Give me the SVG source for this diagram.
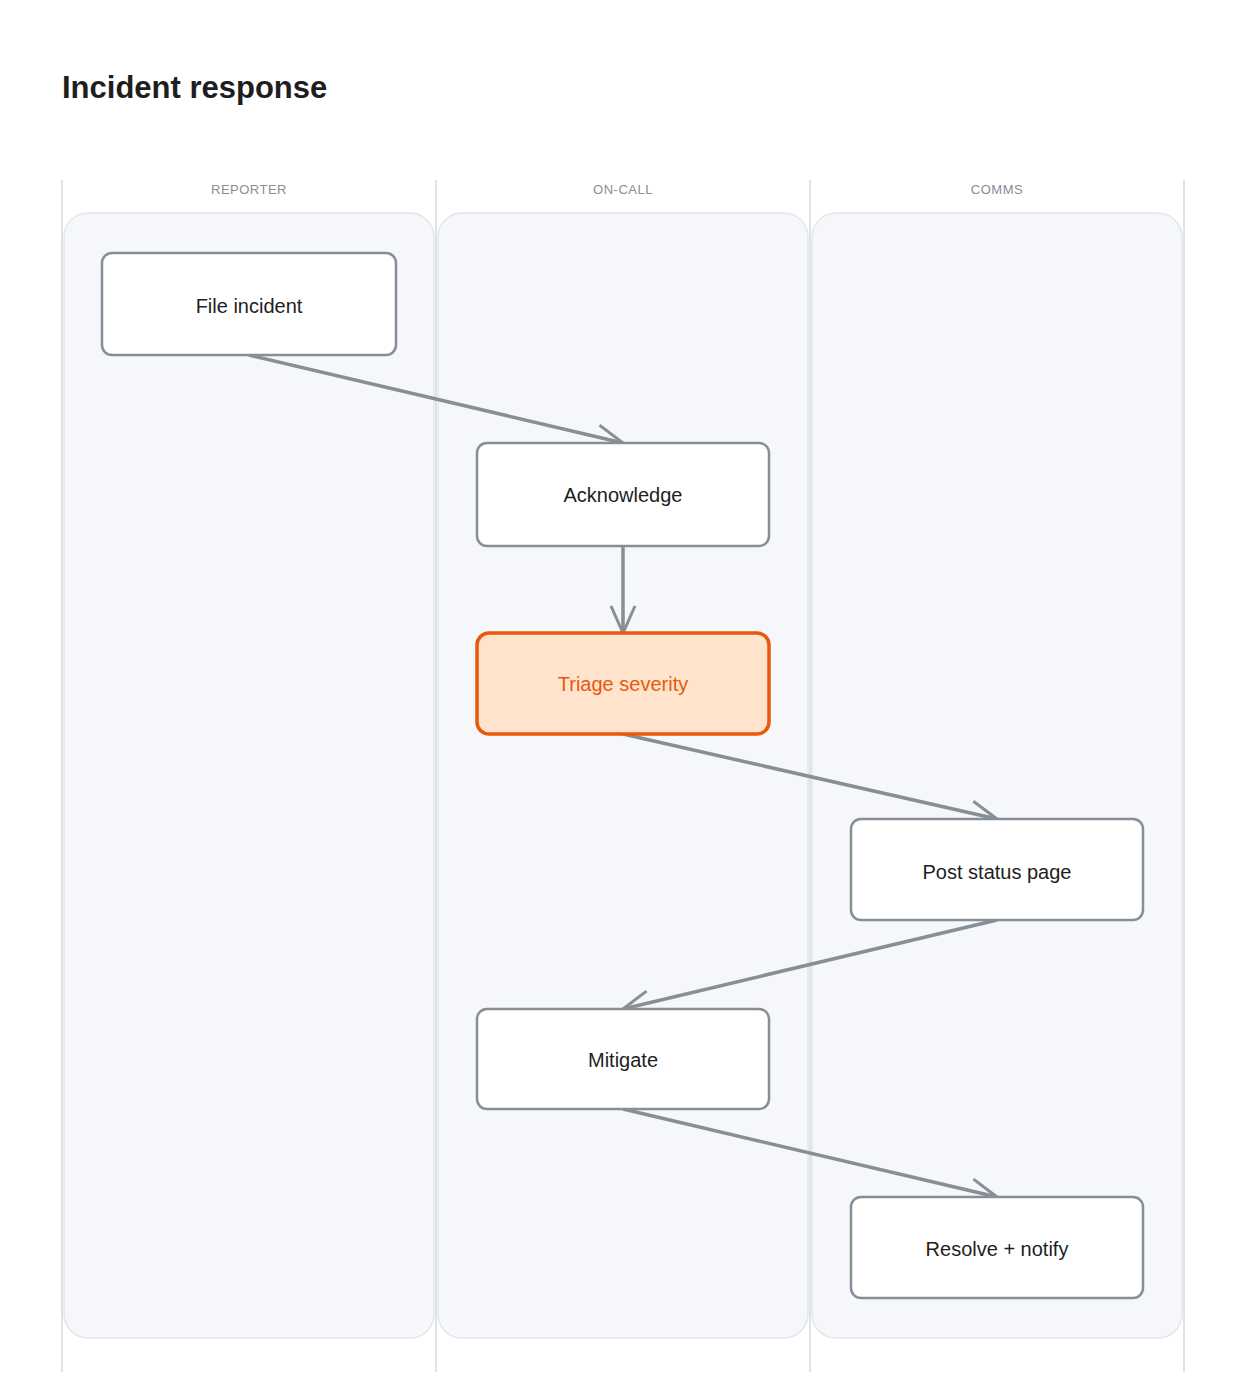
<svg xmlns="http://www.w3.org/2000/svg" width="1245" height="1400" viewBox="0 0 1245 1400">
<defs>
<style>
.lane{fill:#f5f7fa;stroke:#e3e6ea;stroke-width:1.5}
.sep{stroke:#dfe2e6;stroke-width:2}
.lh{font-family:"Liberation Sans",sans-serif;font-size:13px;fill:#868e96;text-anchor:middle;letter-spacing:0.5px}
.node{fill:#ffffff;stroke:#868e96;stroke-width:2.5}
.nt{font-family:"Liberation Sans",sans-serif;font-size:20px;fill:#1e1e1e;text-anchor:middle;dominant-baseline:central}
.hot{fill:#ffe3cc;stroke:#e8590c;stroke-width:3.5}
.ht{fill:#e8590c}
.edge{fill:none;stroke:#868e96;stroke-width:3.5;marker-end:url(#arr)}
</style>
<marker id="arr" viewBox="0 0 24 24" refX="22" refY="12" markerWidth="36" markerHeight="36" markerUnits="userSpaceOnUse" orient="auto">
<path d="M4 4 L22 12 L4 20" fill="none" stroke="#868e96" stroke-width="2"/>
</marker>
</defs>
<rect width="1245" height="1400" fill="#ffffff"/>
<text x="62" y="98" font-family="Liberation Sans,sans-serif" font-size="31" font-weight="bold" fill="#1e1e1e">Incident response</text>
<g id="lanes">
<rect class="lane" x="64" y="213" width="370" height="1125" rx="24"/>
<rect class="lane" x="438" y="213" width="370" height="1125" rx="24"/>
<rect class="lane" x="812" y="213" width="370" height="1125" rx="24"/>
<line class="sep" x1="62" y1="180" x2="62" y2="1372"/>
<line class="sep" x1="436" y1="180" x2="436" y2="1372"/>
<line class="sep" x1="810" y1="180" x2="810" y2="1372"/>
<line class="sep" x1="1184" y1="180" x2="1184" y2="1372"/>
<text class="lh" x="249" y="194">REPORTER</text>
<text class="lh" x="623" y="194">ON-CALL</text>
<text class="lh" x="997" y="194">COMMS</text>
</g>
<g id="connectors">
<path class="edge" d="M249 355 L623 443"/>
<path class="edge" d="M623 546 L623 633"/>
<path class="edge" d="M623 734 L997 819"/>
<path class="edge" d="M997 920 L623 1009"/>
<path class="edge" d="M623 1109 L997 1197"/>
</g>
<g id="file-incident"><rect class="node" x="102" y="253" width="294" height="102" rx="10"/><text class="nt" x="249" y="306">File incident</text></g>
<g id="acknowledge"><rect class="node" x="477" y="443" width="292" height="103" rx="10"/><text class="nt" x="623" y="495">Acknowledge</text></g>
<g id="triage"><rect class="hot" x="477" y="633" width="292" height="101" rx="12"/><text class="nt ht" x="623" y="684">Triage severity</text></g>
<g id="post-status"><rect class="node" x="851" y="819" width="292" height="101" rx="10"/><text class="nt" x="997" y="872">Post status page</text></g>
<g id="mitigate"><rect class="node" x="477" y="1009" width="292" height="100" rx="10"/><text class="nt" x="623" y="1060">Mitigate</text></g>
<g id="resolve"><rect class="node" x="851" y="1197" width="292" height="101" rx="10"/><text class="nt" x="997" y="1249">Resolve + notify</text></g>
</svg>
